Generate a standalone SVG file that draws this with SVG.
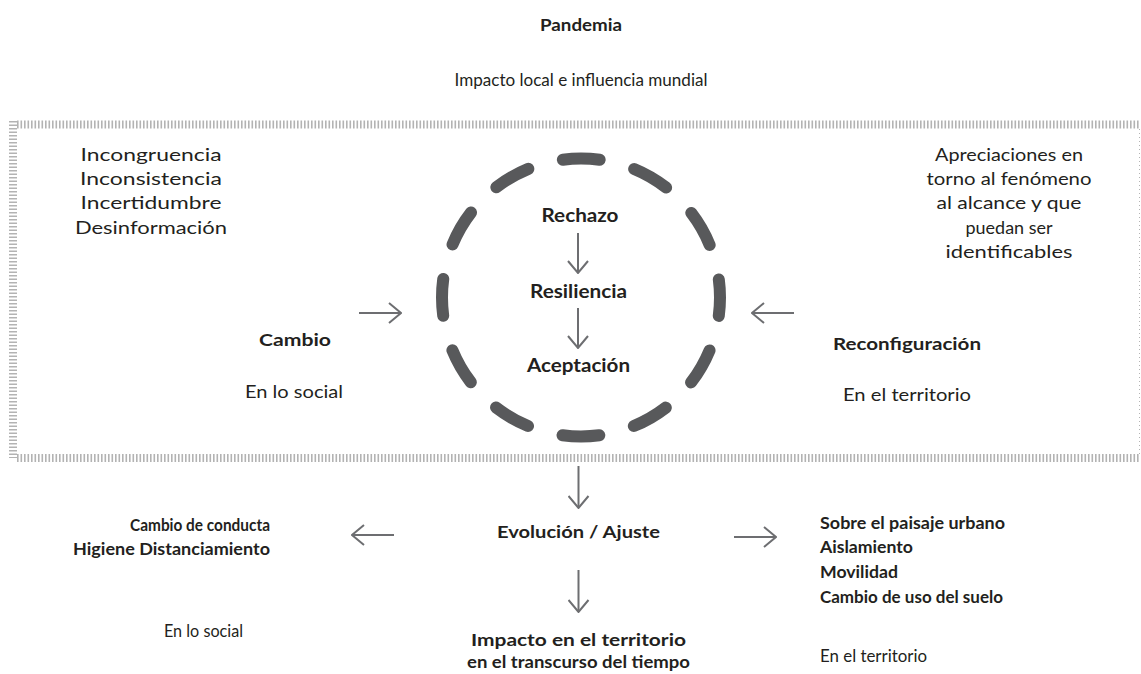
<svg xmlns="http://www.w3.org/2000/svg" width="1141" height="674" viewBox="0 0 1141 674">
<defs>
<style>
text{font-family:Lato,"Open Sans","Liberation Sans",sans-serif;font-size:17px;fill:#231f20}
.b{font-weight:bold;font-size:17.5px}
.big{font-size:19px}
.c{text-anchor:middle}
.r{text-anchor:end}
.tick{stroke:#b3b3b3;fill:none}
.arr{stroke:#6d6e71;stroke-width:2;fill:none;stroke-linecap:butt}
.ring{stroke:#58595b;stroke-width:12;fill:none;stroke-linecap:round}
</style>
<marker id="ah" viewBox="0 0 14 22" refX="13" refY="11" markerWidth="14" markerHeight="22" markerUnits="userSpaceOnUse" orient="auto">
<path d="M1 1 L13 11 L1 21" fill="none" stroke="#6d6e71" stroke-width="2"/>
</marker>
</defs>
<rect width="1141" height="674" fill="#fff"/>
<g id="frame">
<line class="tick" x1="17" y1="124.5" x2="1139" y2="124.5" stroke-width="8" stroke-dasharray="1.6 1.9"/>
<line class="tick" x1="17" y1="458" x2="1139" y2="458" stroke-width="8" stroke-dasharray="1.6 1.9"/>
<line class="tick" x1="13" y1="121" x2="13" y2="458" stroke-width="8" stroke-dasharray="1.6 1.9"/>
<line class="tick" x1="1139.5" y1="129" x2="1139.5" y2="454" stroke-width="1" stroke-dasharray="1 3"/>
</g>
<g id="ring">
<circle class="ring" cx="581" cy="297.5" r="139" stroke-dasharray="37 35.78" stroke-dashoffset="18.5"/>
</g>
<g id="connectors">
<line class="arr" x1="578" y1="233" x2="578" y2="273" marker-end="url(#ah)"/>
<line class="arr" x1="578" y1="308" x2="578" y2="348" marker-end="url(#ah)"/>
<line class="arr" x1="359" y1="313" x2="401" y2="313" marker-end="url(#ah)"/>
<line class="arr" x1="794" y1="313" x2="752" y2="313" marker-end="url(#ah)"/>
<line class="arr" x1="578.5" y1="466" x2="578.5" y2="508" marker-end="url(#ah)"/>
<line class="arr" x1="394" y1="535" x2="352" y2="535" marker-end="url(#ah)"/>
<line class="arr" x1="734" y1="537" x2="776" y2="537" marker-end="url(#ah)"/>
<line class="arr" x1="578.5" y1="570" x2="578.5" y2="612" marker-end="url(#ah)"/>
</g>
<g id="pandemia"><text class="b c" x="581" y="31" textLength="82" lengthAdjust="spacingAndGlyphs">Pandemia</text></g>
<g id="impacto"><text class="c" x="581" y="86" textLength="253" lengthAdjust="spacingAndGlyphs">Impacto local e influencia mundial</text></g>
<g id="incongruencia">
<text class="c" x="151" y="161" textLength="141" lengthAdjust="spacingAndGlyphs">Incongruencia</text>
<text class="c" x="151" y="185" textLength="142" lengthAdjust="spacingAndGlyphs">Inconsistencia</text>
<text class="c" x="151" y="209" textLength="141" lengthAdjust="spacingAndGlyphs">Incertidumbre</text>
<text class="c" x="151" y="234" textLength="152" lengthAdjust="spacingAndGlyphs">Desinformación</text>
</g>
<g id="apreciaciones">
<text class="c" x="1009" y="161" textLength="148" lengthAdjust="spacingAndGlyphs">Apreciaciones en</text>
<text class="c" x="1009" y="185" textLength="165" lengthAdjust="spacingAndGlyphs">torno al fenómeno</text>
<text class="c" x="1009" y="209" textLength="145" lengthAdjust="spacingAndGlyphs">al alcance y que</text>
<text class="c" x="1009" y="234" textLength="87" lengthAdjust="spacingAndGlyphs">puedan ser</text>
<text class="c" x="1009" y="258" textLength="127" lengthAdjust="spacingAndGlyphs">identificables</text>
</g>
<g id="rechazo"><text class="b big c" x="580" y="222" textLength="77" lengthAdjust="spacingAndGlyphs">Rechazo</text></g>
<g id="resiliencia"><text class="b big c" x="578.5" y="298" textLength="97" lengthAdjust="spacingAndGlyphs">Resiliencia</text></g>
<g id="aceptacion"><text class="b big c" x="578.5" y="372" textLength="103" lengthAdjust="spacingAndGlyphs">Aceptación</text></g>
<g id="cambio">
<text class="b c" x="295" y="346" textLength="72" lengthAdjust="spacingAndGlyphs">Cambio</text>
<text class="c" x="294" y="398" textLength="98" lengthAdjust="spacingAndGlyphs">En lo social</text>
</g>
<g id="reconfiguracion">
<text class="b c" x="907" y="350" textLength="148" lengthAdjust="spacingAndGlyphs">Reconfiguración</text>
<text class="c" x="907" y="401" textLength="128" lengthAdjust="spacingAndGlyphs">En el territorio</text>
</g>
<g id="evolucion"><text class="b c" x="578.5" y="538" textLength="163" lengthAdjust="spacingAndGlyphs">Evolución / Ajuste</text></g>
<g id="conducta">
<text class="b r" x="270" y="531" textLength="140" lengthAdjust="spacingAndGlyphs">Cambio de conducta</text>
<text class="b r" x="270" y="555" textLength="197" lengthAdjust="spacingAndGlyphs">Higiene Distanciamiento</text>
<text class="c" x="203.5" y="637" textLength="79" lengthAdjust="spacingAndGlyphs">En lo social</text>
</g>
<g id="paisaje">
<text class="b" x="820" y="529" textLength="185" lengthAdjust="spacingAndGlyphs">Sobre el paisaje urbano</text>
<text class="b" x="820" y="553" textLength="93" lengthAdjust="spacingAndGlyphs">Aislamiento</text>
<text class="b" x="820" y="578" textLength="78" lengthAdjust="spacingAndGlyphs">Movilidad</text>
<text class="b" x="820" y="603" textLength="183" lengthAdjust="spacingAndGlyphs">Cambio de uso del suelo</text>
<text x="820" y="662" textLength="107" lengthAdjust="spacingAndGlyphs">En el territorio</text>
</g>
<g id="impacto-territorio">
<text class="b c" x="578.5" y="646" textLength="215" lengthAdjust="spacingAndGlyphs">Impacto en el territorio</text>
<text class="b c" x="578.5" y="668" textLength="223" lengthAdjust="spacingAndGlyphs">en el transcurso del tiempo</text>
</g>
</svg>
